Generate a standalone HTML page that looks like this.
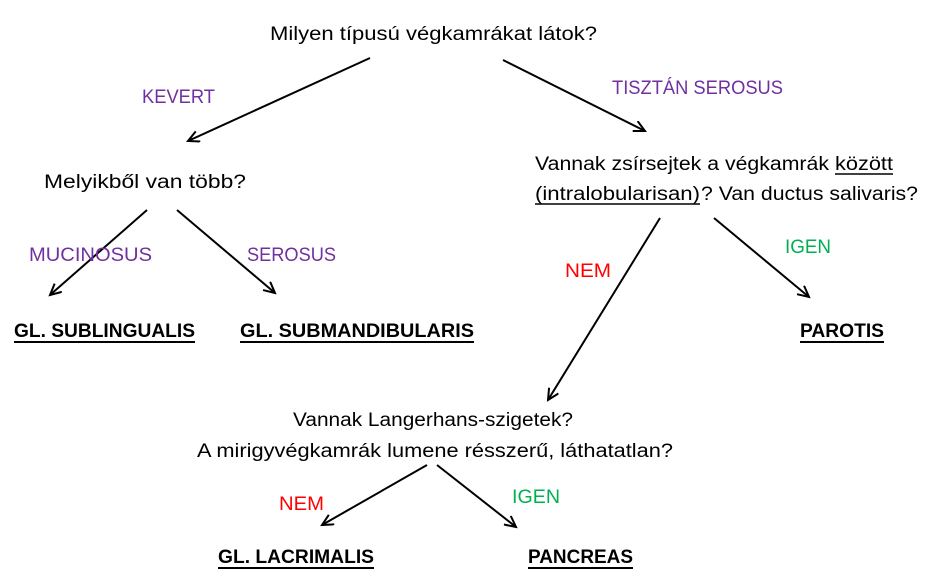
<!DOCTYPE html>
<html><head><meta charset="utf-8"><style>
html,body{margin:0;padding:0;background:#fff;}
svg{display:block;}
text{font-family:"Liberation Sans",sans-serif;font-size:19px;}
.p{fill:#7030A0}.r{fill:#FF0000}.g{fill:#00B050}.b{font-weight:bold}
</style></head><body>
<svg width="932" height="586" viewBox="0 0 932 586" xmlns="http://www.w3.org/2000/svg">
<defs><marker id="a" markerWidth="14" markerHeight="14" refX="12" refY="6" orient="auto" markerUnits="userSpaceOnUse">
<polyline points="1,0.5 12,6 1,11.5" fill="none" stroke="#000" stroke-width="2"/></marker></defs>
<g stroke="#000" stroke-width="2" marker-end="url(#a)">
<line x1="370" y1="58" x2="188" y2="141"/>
<line x1="503" y1="60" x2="645" y2="131"/>
<line x1="147" y1="210" x2="50" y2="295"/>
<line x1="177" y1="210" x2="275" y2="293"/>
<line x1="660" y1="218" x2="548" y2="400"/>
<line x1="714" y1="218" x2="809" y2="297"/>
<line x1="427" y1="465" x2="322" y2="525"/>
<line x1="437" y1="465" x2="516" y2="527"/>
</g>
<text x="270" y="40" textLength="327" lengthAdjust="spacingAndGlyphs">Milyen típusú végkamrákat látok?</text>
<text class="p" x="142" y="103" textLength="73" lengthAdjust="spacingAndGlyphs">KEVERT</text>
<text class="p" x="612" y="94" textLength="171" lengthAdjust="spacingAndGlyphs">TISZTÁN SEROSUS</text>
<text x="44" y="188" textLength="202" lengthAdjust="spacingAndGlyphs">Melyikből van több?</text>
<text x="535" y="170" textLength="294" lengthAdjust="spacingAndGlyphs">Vannak zsírsejtek a végkamrák</text>
<text x="835" y="170" textLength="58" lengthAdjust="spacingAndGlyphs">között</text>
<line x1="835" y1="174" x2="893" y2="174" stroke="#000" stroke-width="1.5"/>
<text x="535" y="200" textLength="165" lengthAdjust="spacingAndGlyphs">(intralobularisan)</text>
<line x1="535" y1="204" x2="700" y2="204" stroke="#000" stroke-width="1.5"/>
<text x="701" y="200" textLength="217" lengthAdjust="spacingAndGlyphs">? Van ductus salivaris?</text>
<text class="p" x="29" y="261" textLength="123" lengthAdjust="spacingAndGlyphs">MUCINOSUS</text>
<text class="p" x="247" y="261" textLength="89" lengthAdjust="spacingAndGlyphs">SEROSUS</text>
<text class="r" x="565" y="277" textLength="46" lengthAdjust="spacingAndGlyphs">NEM</text>
<text class="g" x="785" y="253" textLength="46" lengthAdjust="spacingAndGlyphs">IGEN</text>
<text class="b" x="14" y="337" textLength="181" lengthAdjust="spacingAndGlyphs">GL. SUBLINGUALIS</text>
<line x1="14" y1="342" x2="195" y2="342" stroke="#000" stroke-width="2"/>
<text class="b" x="240" y="337" textLength="234" lengthAdjust="spacingAndGlyphs">GL. SUBMANDIBULARIS</text>
<line x1="240" y1="342" x2="474" y2="342" stroke="#000" stroke-width="2"/>
<text class="b" x="800" y="337" textLength="84" lengthAdjust="spacingAndGlyphs">PAROTIS</text>
<line x1="800" y1="342" x2="884" y2="342" stroke="#000" stroke-width="2"/>
<text x="293" y="426" textLength="280" lengthAdjust="spacingAndGlyphs">Vannak Langerhans-szigetek?</text>
<text x="197" y="457" textLength="476" lengthAdjust="spacingAndGlyphs">A mirigyvégkamrák lumene résszerű, láthatatlan?</text>
<text class="r" x="279" y="510" textLength="45" lengthAdjust="spacingAndGlyphs">NEM</text>
<text class="g" x="512" y="503" textLength="48" lengthAdjust="spacingAndGlyphs">IGEN</text>
<text class="b" x="218" y="563" textLength="156" lengthAdjust="spacingAndGlyphs">GL. LACRIMALIS</text>
<line x1="218" y1="568" x2="374" y2="568" stroke="#000" stroke-width="2"/>
<text class="b" x="528" y="563" textLength="105" lengthAdjust="spacingAndGlyphs">PANCREAS</text>
<line x1="528" y1="568" x2="633" y2="568" stroke="#000" stroke-width="2"/>
</svg>
</body></html>
